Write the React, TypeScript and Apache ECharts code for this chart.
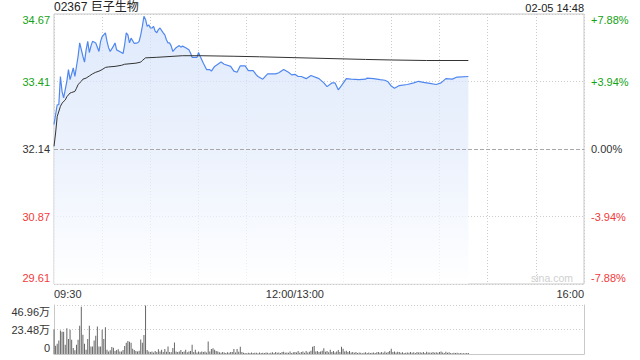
import React, { useEffect, useRef } from 'react';
import * as echarts from 'echarts';

const stockTitle = '02367 巨子生物';
const stampText = '02-05 14:48';
const watermark = 'sina.com';
const prevClose = 32.14;
const pctRange = 7.88;
const pctStep = 3.94;
const priceTickLabels = ['29.61', '30.87', '32.14', '33.41', '34.67'];
const pctTickLabels = ['-7.88%', '-3.94%', '0.00%', '+3.94%', '+7.88%'];
const volTickLabels = ['0', '23.48万', '46.96万'];
const volMax = 46.96;
const volStep = 23.48;
const xTickLabels = ['09:30', '12:00/13:00', '16:00'];

const priceTimes = ['09:30','09:32','09:33','09:34','09:35','09:36','09:38','09:39','09:40','09:42','09:43','09:45','09:46','09:48','09:49','09:50','09:51','09:52','09:53','09:54','09:56','09:58','09:59','10:00','10:02','10:03','10:04','10:05','10:07','10:08','10:09','10:12','10:13','10:14','10:15','10:16','10:17','10:18','10:20','10:22','10:23','10:24','10:25','10:26','10:27','10:28','10:29','10:30','10:31','10:32','10:33','10:34','10:35','10:36','10:38','10:39','10:40','10:41','10:42','10:43','10:44','10:46','10:48','10:49','10:50','10:52','10:54','10:55','10:56','10:59','11:00','11:01','11:03','11:05','11:07','11:08','11:10','11:12','11:14','11:16','11:20','11:22','11:24','11:26','11:29','11:31','11:34','11:36','11:37','11:40','11:43','11:48','11:50','11:53','11:56','11:58','12:00','13:02','13:04','13:07','13:10','13:15','13:18','13:20','13:23','13:25','13:27','13:29','13:32','13:35','13:40','13:44','13:45','13:49','13:53','13:56','13:58','14:00','14:02','14:05','14:10','14:14','14:17','14:20','14:24','14:28','14:31','14:34','14:38','14:41','14:48'];
const prices = [32.60,32.97,32.97,33.50,33.22,33.10,33.41,33.63,33.44,33.66,
  33.50,33.88,34.13,33.88,33.77,34.00,34.16,33.95,34.07,34.16,
  34.13,33.97,34.16,34.25,34.32,34.16,34.04,33.97,34.07,34.13,
  34.00,33.95,33.93,34.10,34.32,34.28,34.13,34.22,34.12,34.13,
  34.16,34.28,34.44,34.63,34.57,34.44,34.47,34.41,34.41,34.44,
  34.35,34.32,34.38,34.41,34.32,34.28,34.19,34.13,34.13,34.07,
  33.97,34.04,34.08,34.05,34.07,34.04,34.00,33.94,33.86,33.86,
  33.95,33.88,33.75,33.63,33.63,33.60,33.69,33.73,33.77,33.73,
  33.69,33.60,33.58,33.70,33.70,33.61,33.61,33.53,33.50,33.45,
  33.55,33.55,33.57,33.63,33.58,33.53,33.54,33.50,33.50,33.46,
  33.52,33.46,33.38,33.31,33.38,33.38,33.25,33.33,33.46,33.45,
  33.44,33.45,33.47,33.46,33.44,33.43,33.40,33.32,33.28,33.33,
  33.35,33.38,33.41,33.39,33.37,33.35,33.38,33.46,33.45,33.49,
  33.50];

const avgTimes = ['09:30','09:31','09:32','09:34','09:35','09:37','09:38','09:40','09:41','09:43','09:44','09:45','09:47','09:48','09:50','09:52','09:54','09:56','09:58','10:00','10:02','10:04','10:08','10:12','10:14','10:21','10:24','10:25','10:27','10:34','10:50','11:01','11:22','11:38','13:44','14:00','14:22','14:48'];
const avgValues = [32.19,32.44,32.75,32.94,33.00,33.06,33.12,33.19,33.20,33.22,
  33.28,33.35,33.41,33.45,33.47,33.51,33.55,33.58,33.60,33.63,
  33.67,33.68,33.69,33.71,33.73,33.75,33.77,33.80,33.85,33.86,
  33.89,33.89,33.88,33.87,33.82,33.81,33.80,33.80];

// volume per minute (万股), minute 0 = 09:30
const volumes = [
  23.8, 8.0, 9.8, 13.0, 22.5, 21.3, 21.3, 8.9, 24.7, 14.3,
  23.2, 13.6, 5.7, 3.5, 8.9, 13.6, 27.0, 45.4, 18.4, 9.8,
  4.1, 14.3, 27.0, 7.3, 7.3, 13.0, 17.5, 26.3, 7.3, 7.3,
  23.2, 14.3, 25.7, 4.1, 2.5, 3.5, 6.7, 6.0, 2.9, 3.8,
  4.5, 2.3, 2.3, 3.8, 7.7, 10.9, 12.5, 11.8, 10.9, 5.0,
  3.8, 2.9, 2.3, 3.0, 14.0, 10.9, 18.2, 46.5, 3.8, 2.5,
  1.8, 2.3, 1.5, 2.9, 2.0, 4.5, 2.5, 4.1, 1.8, 4.8,
  2.2, 7.3, 2.0, 1.6, 5.7, 11.1, 2.4, 1.8, 2.5, 3.8,
  2.0, 2.5, 4.1, 1.7, 2.5, 2.9, 8.9, 2.0, 4.1, 1.5,
  2.3, 1.6, 2.5, 1.8, 2.3, 1.4, 12.0, 2.4, 4.8, 5.4,
  4.1, 2.9, 2.5, 1.6, 1.2, 1.8, 1.4, 1.0, 1.6, 1.3,
  1.8, 2.0, 4.8, 1.5, 4.8, 2.2, 7.0, 2.0, 1.2, 1.0,
  0.8, 1.2, 1.0, 1.5, 0.9, 1.3, 1.1, 0.8, 1.4, 1.0,
  1.2, 0.9, 1.5, 1.1, 0.8, 1.3, 1.6, 1.0, 2.0, 1.2,
  1.4, 1.0, 1.8, 2.2, 1.1, 1.5, 1.2, 2.5, 1.0, 1.6,
  2.0, 1.4, 2.8, 1.2, 1.8, 2.5, 1.1, 2.9, 1.5, 2.2,
  3.0, 7.0, 7.7, 2.4, 2.9, 1.8, 2.5, 3.2, 5.4, 2.1,
  2.9, 1.6, 4.1, 2.0, 2.9, 1.5, 2.5, 3.8, 2.0, 7.0,
  5.0, 2.4, 3.2, 1.8, 2.9, 1.5, 2.0, 1.2, 1.8, 1.0,
  1.5, 1.2, 0.8, 1.1, 1.6, 1.0, 1.4, 0.9, 1.2, 1.5,
  1.0, 1.6, 1.8, 1.2, 2.0, 1.1, 2.5, 1.3, 1.8, 2.9,
  5.0, 2.0, 2.5, 1.5, 2.2, 1.8, 1.2, 1.6, 1.0, 1.3,
  1.5, 1.1, 1.8, 1.2, 1.6, 1.0, 2.0, 1.4, 1.7, 1.2,
  1.8, 1.0, 2.2, 1.4, 1.5, 1.1, 2.0, 1.3, 1.6, 1.2,
  1.8, 2.5, 1.4, 1.0, 2.2, 1.2, 1.6, 1.0, 0.8, 1.2,
  0.9, 1.1, 0.7, 0.9, 0.6, 0.8, 0.7, 1.0, 0.9,
];

const UP = '#13a313';
const DOWN = '#f23a3a';
const FLAT = '#333333';
const FONT = 'Arial, "Liberation Sans", "Noto Sans CJK SC", sans-serif';

function toIndex(t: string): number {
  const [h, m] = t.split(':').map(Number);
  const v = h * 60 + m;
  return v <= 720 ? v - 570 : v - 630;
}
const toPct = (p: number) => ((p - prevClose) / prevClose) * 100;

const sessionEnd = toIndex(xTickLabels[2]);
const xLabelMap: Record<number, string> = {};
xTickLabels.forEach((l) => { xLabelMap[toIndex(l.split('/')[0])] = l; });

function richSet(size: number) {
  const base = { fontSize: size, fontFamily: FONT };
  return {
    upTop: { ...base, color: UP, padding: [11, 0, 0, 0] },
    up: { ...base, color: UP },
    zero: { ...base, color: FLAT },
    dn: { ...base, color: DOWN },
    dnBot: { ...base, color: DOWN, padding: [0, 0, 12, 0] },
  };
}
function tickFmt(labels: string[]) {
  return (v: number) => {
    const i = Math.round(v / pctStep) + 2;
    const key = i > 2 ? (i === 4 ? 'upTop' : 'up') : i < 2 ? (i === 0 ? 'dnBot' : 'dn') : 'zero';
    return `{${key}|${labels[i]}}`;
  };
}

export default function App() {
  const ref = useRef<HTMLDivElement>(null);
  useEffect(() => {
    document.body.style.margin = '0';
    if (!ref.current) return;
    const chart = echarts.init(ref.current, undefined, { renderer: 'svg' });
    const dotted = { color: '#cccccc', width: 1, type: [1, 2] as number[] };
    chart.setOption({
      animation: false,
      textStyle: { fontFamily: FONT },
      grid: [
        { left: 54, right: 56, top: 14, height: 270, show: true, borderColor: '#c8c8c8', borderWidth: 1 },
        { left: 54, right: 56, top: 305, height: 49 },
      ],
      xAxis: [
        {
          type: 'value', gridIndex: 0, min: 0, max: sessionEnd, interval: 30,
          axisLine: { show: false }, axisTick: { show: false },
          splitLine: { show: true, lineStyle: dotted },
          axisLabel: {
            show: true, margin: 4, fontSize: 11, color: '#333', fontFamily: FONT,
            showMinLabel: true, showMaxLabel: true, alignMinLabel: 'left', alignMaxLabel: 'right',
            formatter: (v: number) => xLabelMap[v] ?? '',
          },
        },
        {
          type: 'value', gridIndex: 1, min: 0, max: sessionEnd,
          axisLine: { show: true, lineStyle: { color: '#c8c8c8' } },
          axisTick: { show: false }, axisLabel: { show: false }, splitLine: { show: false },
        },
      ],
      yAxis: [
        {
          type: 'value', gridIndex: 0, min: -pctRange, max: pctRange, interval: pctStep,
          axisLine: { show: false }, axisTick: { show: false },
          splitLine: { show: true, lineStyle: dotted },
          axisLabel: { margin: 4, fontSize: 11, formatter: tickFmt(priceTickLabels), rich: richSet(11) },
        },
        {
          type: 'value', gridIndex: 0, position: 'right', min: -pctRange, max: pctRange, interval: pctStep,
          axisLine: { show: false }, axisTick: { show: false }, splitLine: { show: false },
          axisLabel: { margin: 7, fontSize: 11, formatter: tickFmt(pctTickLabels), rich: richSet(11) },
        },
        {
          type: 'value', gridIndex: 1, min: 0, max: volMax, interval: volStep,
          axisLine: { show: true, lineStyle: { color: '#c8c8c8' } }, axisTick: { show: false },
          splitLine: { show: true, lineStyle: dotted },
          axisLabel: {
            margin: 4, fontSize: 11,
            formatter: (v: number) => {
              const i = Math.round(v / volStep);
              const key = i === 2 ? 'top' : i === 0 ? 'bot' : 'mid';
              return `{${key}|${volTickLabels[i]}}`;
            },
            rich: {
              top: { fontSize: 11, fontFamily: FONT, color: '#333', padding: [14, 0, 0, 0] },
              mid: { fontSize: 11, fontFamily: FONT, color: '#333' },
              bot: { fontSize: 11, fontFamily: FONT, color: '#333', padding: [0, 0, 12, 0] },
            },
          },
        },
        {
          type: 'value', gridIndex: 1, position: 'right', min: 0, max: volMax,
          axisLine: { show: true, lineStyle: { color: '#c8c8c8' } }, axisTick: { show: false },
          axisLabel: { show: false }, splitLine: { show: false },
        },
      ],
      series: [
        {
          type: 'line', xAxisIndex: 0, yAxisIndex: 0, symbol: 'none',
          data: priceTimes.map((t, i) => [toIndex(t), toPct(prices[i])]),
          lineStyle: { color: '#4f87ee', width: 1.2 },
          areaStyle: {
            origin: 'start',
            color: new echarts.graphic.LinearGradient(0, 0, 0, 1, [
              { offset: 0, color: '#d2e1fa' },
              { offset: 0.55, color: '#e6eefc' },
              { offset: 1, color: '#ffffff' },
            ]),
          },
          markLine: {
            silent: true, symbol: ['none', 'none'], label: { show: false },
            lineStyle: { color: '#a8a8a8', width: 1, type: [4, 2] },
            data: [{ yAxis: toPct(prevClose) }],
          },
          z: 2,
        },
        {
          type: 'line', xAxisIndex: 0, yAxisIndex: 0, symbol: 'none',
          data: avgTimes.map((t, i) => [toIndex(t), toPct(avgValues[i])]),
          lineStyle: { color: '#333333', width: 1 },
          z: 3,
        },
        {
          type: 'bar', xAxisIndex: 1, yAxisIndex: 2, barWidth: 1,
          data: volumes.map((v, i) => [i, v]),
          itemStyle: { color: '#666666' },
        },
      ],
      graphic: [
        { type: 'text', left: 54, top: 1, style: { text: stockTitle, fontSize: 12, fontFamily: FONT, fill: '#222' } },
        { type: 'text', right: 56, top: 2, style: { text: stampText, fontSize: 11, fontFamily: FONT, fill: '#222' } },
        { type: 'text', right: 67, top: 273, style: { text: watermark, fontSize: 10.5, fontFamily: FONT, fill: '#cfcfcf' } },
      ],
    });
    return () => chart.dispose();
  }, []);
  return <div ref={ref} style={{ width: 640, height: 360 }} />;
}
